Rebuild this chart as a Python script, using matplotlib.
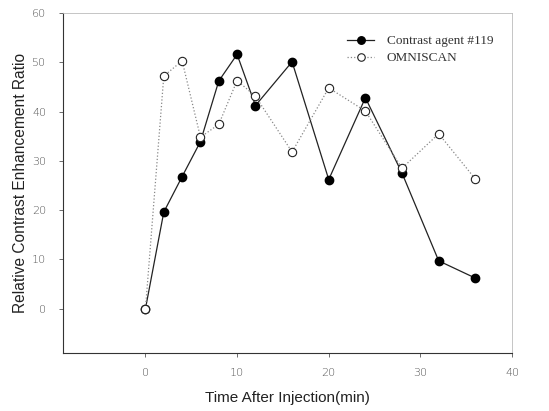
import matplotlib
matplotlib.use("Agg")
import matplotlib.pyplot as plt

time_min = [0, 2, 4, 6, 8, 10, 12, 16, 20, 24, 28, 32, 36]
agent119 = [0.0, 19.6, 26.8, 33.9, 46.2, 51.6, 41.2, 50.1, 26.2, 42.8, 27.5, 9.7, 6.2]
omniscan = [0.0, 47.2, 50.3, 34.8, 37.4, 46.3, 43.1, 31.8, 44.8, 40.1, 28.5, 35.5, 26.3]
x_ticks = [0, 10, 20, 30, 40]
y_ticks = [0, 10, 20, 30, 40, 50, 60]

fig = plt.figure(figsize=(5.49, 4.11), dpi=100)
ax = fig.add_axes([63/549, 1 - 353/411, (512 - 63)/549, (353 - 13)/411])

ax.plot(time_min, agent119, linestyle='-', color='#222222', linewidth=0.9,
        marker='o', markersize=6, markerfacecolor='black', markeredgecolor='black',
        label='Contrast agent #119', zorder=2)
ax.plot(time_min, omniscan, linestyle=':', color='#888888', linewidth=0.9,
        marker='o', markersize=6, markerfacecolor='white', markeredgecolor='#222222',
        markeredgewidth=0.8, label='OMNISCAN', zorder=3)

ax.set_xlim(-9, 40)
ax.set_ylim(-9, 60)
ax.set_xticks(x_ticks)
ax.set_yticks(y_ticks)
ax.tick_params(axis='both', direction='out', length=3, width=0.6, colors='#555555',
               labelsize=8, labelcolor='#555555')
ax.tick_params(axis='y', pad=9)
ax.tick_params(axis='x', pad=8)
for lab in ax.get_xticklabels() + ax.get_yticklabels():
    lab.set_family('DejaVu Sans')
    lab.set_fontweight('light')

ax.spines['left'].set_color('#333333')
ax.spines['bottom'].set_color('#333333')
ax.spines['left'].set_linewidth(0.8)
ax.spines['bottom'].set_linewidth(0.8)
ax.spines['top'].set_color('#bbbbbb')
ax.spines['right'].set_color('#bbbbbb')
ax.spines['top'].set_linewidth(0.6)
ax.spines['right'].set_linewidth(0.6)

ax.set_xlabel('Time After Injection(min)', fontsize=11, family='Liberation Sans',
              color='#222222', labelpad=9)
ax.set_ylabel('Relative Contrast Enhancement Ratio', fontsize=11.2, family='Liberation Sans',
              color='#222222', labelpad=3)

handles, labels = ax.get_legend_handles_labels()
leg = ax.legend(handles, labels, loc='upper right', frameon=False,
                prop={'family': 'Liberation Serif', 'size': 9.5},
                handlelength=2.0, handletextpad=1.0, labelspacing=0.35,
                markerscale=0.9, bbox_to_anchor=(0.985, 0.97))
for t in leg.get_texts():
    t.set_color('#333333')

fig.savefig('out.png', dpi=100)
